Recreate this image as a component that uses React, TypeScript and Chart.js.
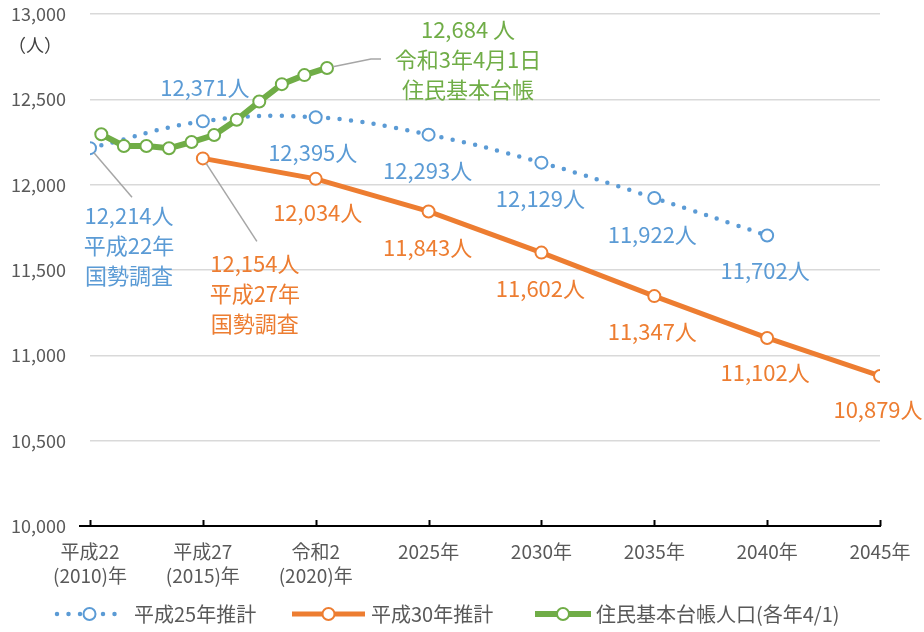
import React, { useEffect, useRef } from 'react';
import { Chart, registerables } from 'chart.js';
Chart.register(...registerables);

const FONT = '"Noto Sans CJK JP", "Noto Sans", sans-serif';
const BLUE = '#5B9BD5';
const ORANGE = '#ED7D31';
const GREEN = '#70AD47';
const TEXT = '#595959';

// ---- data ----
const xTickYears = [2010, 2015, 2020, 2025, 2030, 2035, 2040, 2045];
const xTickLabels: (string | string[])[] = [
  ['平成22', '(2010)年'],
  ['平成27', '(2015)年'],
  ['令和2', '(2020)年'],
  '2025年',
  '2030年',
  '2035年',
  '2040年',
  '2045年',
];
const yTickValues = [10000, 10500, 11000, 11500, 12000, 12500, 13000];

const seriesNames = ['平成25年推計', '平成30年推計', '住民基本台帳人口(各年4/1)'];

const h25Years = [2010, 2015, 2020, 2025, 2030, 2035, 2040];
const h25Values = [12214, 12371, 12395, 12293, 12129, 11922, 11702];

const h30Years = [2015, 2020, 2025, 2030, 2035, 2040, 2045];
const h30Values = [12154, 12034, 11843, 11602, 11347, 11102, 10879];

const registryYears = [2010.5, 2011.5, 2012.5, 2013.5, 2014.5, 2015.5, 2016.5, 2017.5, 2018.5, 2019.5, 2020.5];
const registryValues = [12295, 12227, 12227, 12213, 12250, 12291, 12380, 12487, 12589, 12642, 12684];

const h25Notes: string[][] = [['平成22年', '国勢調査'], [], [], [], [], [], []];
const h30Notes: string[][] = [['平成27年', '国勢調査'], [], [], [], [], [], []];
const registryNote = ['令和3年4月1日', '住民基本台帳'];

// ---- label placement (styles, offsets from the point in px) ----
type LabelSpec = { ds: number; idx: number; dx: number; dy: number; lines: string[]; color: string; leader?: number[][] };
const fmt = (v: number) => v.toLocaleString('en-US');

function buildLabels(): LabelSpec[] {
  const out: LabelSpec[] = [];
  const blueOff = [[39, 67], [2, -34], [-3, 35], [-1, 36], [-1, 36], [-2, 37], [-2, 35]];
  h25Values.forEach((v, i) => {
    out.push({
      ds: 2, idx: i, dx: blueOff[i][0], dy: blueOff[i][1],
      lines: [fmt(v) + '人', ...h25Notes[i]], color: BLUE,
      leader: i === 0 ? [[42, 49]] : undefined,
    });
  });
  const orOff = [[52, 105], [2, 34], [-1, 36], [-1, 36], [-2, 36], [-2, 35], [-2, 34]];
  h30Values.forEach((v, i) => {
    out.push({
      ds: 1, idx: i, dx: orOff[i][0], dy: orOff[i][1],
      lines: [fmt(v) + '人', ...h30Notes[i]], color: ORANGE,
      leader: i === 0 ? [[54, 83]] : undefined,
    });
  });
  const last = registryValues.length - 1;
  out.push({
    ds: 0, idx: last, dx: 141, dy: -38,
    lines: [fmt(registryValues[last]) + ' 人', ...registryNote], color: GREEN,
    leader: [[44, -9], [54, -9]],
  });
  return out;
}

const labelPlugin = {
  id: 'labelPlugin',
  afterDatasetsDraw(chart: any) {
    const ctx = chart.ctx;
    const specs = buildLabels();
    ctx.save();
    for (const s of specs) {
      const el = chart.getDatasetMeta(s.ds).data[s.idx];
      if (!el) continue;
      const px = el.x, py = el.y;
      if (s.leader) {
        const first = s.leader[0];
        const ang = Math.atan2(first[1], first[0]);
        ctx.beginPath();
        ctx.strokeStyle = '#a6a6a6';
        ctx.lineWidth = 1.5;
        ctx.moveTo(px + Math.cos(ang) * 6, py + Math.sin(ang) * 6);
        for (const p of s.leader) ctx.lineTo(px + p[0], py + p[1]);
        ctx.stroke();
      }
      ctx.fillStyle = s.color;
      ctx.font = `22px ${FONT}`;
      ctx.textAlign = 'center';
      ctx.textBaseline = 'middle';
      s.lines.forEach((t, k) => ctx.fillText(t, px + s.dx, py + s.dy + k * 30));
    }
    ctx.restore();
  },
};

const axisPlugin = {
  id: 'axisPlugin',
  afterDraw(chart: any) {
    const ctx = chart.ctx;
    const xs = chart.scales.x;
    const ys = chart.scales.y;
    const y0 = ys.getPixelForValue(10000);
    ctx.save();
    ctx.strokeStyle = '#000';
    ctx.lineWidth = 2;
    ctx.beginPath();
    ctx.moveTo(79, y0);
    ctx.lineTo(xs.getPixelForValue(2045) + 1, y0);
    ctx.stroke();
    xTickYears.forEach((yr) => {
      const x = Math.round(xs.getPixelForValue(yr)) + 0.5;
      ctx.beginPath();
      ctx.moveTo(x, y0);
      ctx.lineTo(x, y0 - 6);
      ctx.stroke();
    });
    // unit label
    ctx.fillStyle = '#404040';
    ctx.font = `18px ${FONT}`;
    ctx.textAlign = 'left';
    ctx.textBaseline = 'middle';
    ctx.fillText('（人）', 8, 45);

    // legend
    const ly = 614;
    const items = [
      { ds: 2, name: 0, x0: 57, x1: 122, text: 134 },
      { ds: 1, name: 1, x0: 292, x1: 365, text: 371 },
      { ds: 0, name: 2, x0: 535, x1: 591, text: 596 },
    ];
    items.forEach((it) => {
      const d = chart.data.datasets[it.ds];
      ctx.save();
      ctx.strokeStyle = d.borderColor;
      ctx.lineWidth = d.borderWidth;
      ctx.lineCap = d.borderCapStyle || 'butt';
      ctx.setLineDash(d.borderDash || []);
      ctx.beginPath();
      ctx.moveTo(it.x0, ly);
      ctx.lineTo(it.x1, ly);
      ctx.stroke();
      ctx.restore();
      const cx = (it.x0 + it.x1) / 2;
      ctx.beginPath();
      ctx.arc(cx, ly, 6, 0, Math.PI * 2);
      ctx.fillStyle = '#fff';
      ctx.fill();
      ctx.lineWidth = 2;
      ctx.strokeStyle = d.borderColor;
      ctx.setLineDash([]);
      ctx.stroke();
      ctx.fillStyle = TEXT;
      ctx.font = `20px ${FONT}`;
      ctx.textAlign = 'left';
      ctx.textBaseline = 'middle';
      ctx.fillText(seriesNames[it.name], it.text, ly);
    });
    ctx.restore();
  },
};

export default function App() {
  const ref = useRef<HTMLCanvasElement | null>(null);
  useEffect(() => {
    if (!ref.current) return;
    const pt = (color: string) => ({
      pointRadius: 6,
      pointHoverRadius: 6,
      pointBackgroundColor: '#ffffff',
      pointBorderColor: color,
      pointBorderWidth: 2,
    });
    const chart = new Chart(ref.current, {
      type: 'line',
      data: {
        datasets: [
          {
            label: seriesNames[2],
            data: registryYears.map((x, i) => ({ x, y: registryValues[i] })),
            borderColor: GREEN,
            borderWidth: 6,
            tension: 0,
            order: 0,
            ...pt(GREEN),
          },
          {
            label: seriesNames[1],
            data: h30Years.map((x, i) => ({ x, y: h30Values[i] })),
            borderColor: ORANGE,
            borderWidth: 5,
            tension: 0,
            order: 1,
            ...pt(ORANGE),
          },
          {
            label: seriesNames[0],
            data: h25Years.map((x, i) => ({ x, y: h25Values[i] })),
            borderColor: BLUE,
            borderWidth: 4.5,
            borderDash: [0, 11.5],
            borderCapStyle: 'round',
            tension: 0.4,
            order: 2,
            ...pt(BLUE),
          },
        ] as any,
      },
      options: {
        animation: false,
        responsive: false,
        devicePixelRatio: 1,
        layout: { padding: { left: 0, right: 44, top: 14, bottom: 0 } },
        plugins: { legend: { display: false }, tooltip: { enabled: false } },
        scales: {
          x: {
            type: 'linear',
            min: 2010,
            max: 2045,
            afterFit: (s: any) => { s.height = 106; s.paddingLeft = 0; s.paddingRight = 0; },
            afterBuildTicks: (s: any) => { s.ticks = xTickYears.map((v) => ({ value: v })); },
            grid: { display: false, drawTicks: false },
            border: { display: false },
            ticks: {
              autoSkip: false,
              maxRotation: 0,
              padding: 14,
              color: TEXT,
              font: { family: FONT, size: 19, lineHeight: 1.26 },
              callback: (v: any) => {
                const i = xTickYears.indexOf(Number(v));
                return i >= 0 ? xTickLabels[i] : '';
              },
            },
          },
          y: {
            min: 10000,
            max: 13000,
            afterFit: (s: any) => { s.width = 90; s.paddingTop = 0; s.paddingBottom = 0; },
            afterBuildTicks: (s: any) => { s.ticks = yTickValues.map((v) => ({ value: v })); },
            grid: { color: '#d9d9d9', lineWidth: 1.5, drawTicks: false },
            border: { display: false },
            ticks: {
              padding: 24,
              color: TEXT,
              font: { family: FONT, size: 18 },
              callback: (v: any) => fmt(Number(v)),
            },
          },
        },
      },
      plugins: [labelPlugin, axisPlugin],
    });
    return () => chart.destroy();
  }, []);
  return (
    <div style={{ position: 'fixed', left: 0, top: 0, width: 924, height: 632, background: '#fff' }}>
      <canvas ref={ref} width={924} height={632} />
    </div>
  );
}
